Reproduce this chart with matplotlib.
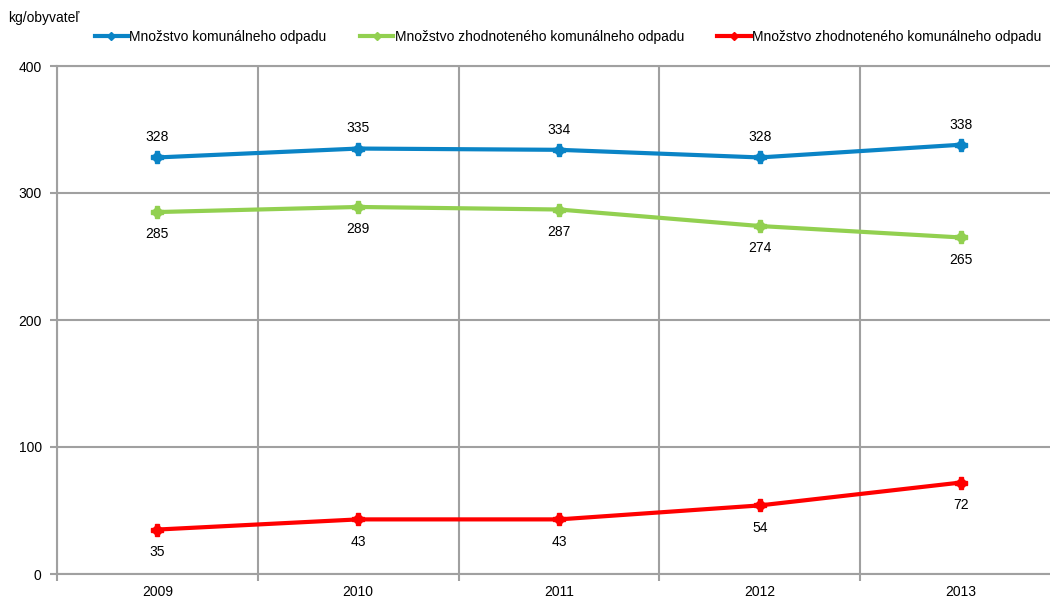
import matplotlib
matplotlib.use("Agg")
import matplotlib.pyplot as plt
from matplotlib.lines import Line2D

plt.rcParams['font.family'] = ['Liberation Sans', 'DejaVu Sans']

years = ["2009", "2010", "2011", "2012", "2013"]
komunalny = [328, 335, 334, 328, 338]
zhodnoteny = [285, 289, 287, 274, 265]
zhodnoteny2 = [35, 43, 43, 54, 72]
series_names = ["Množstvo komunálneho odpadu",
                "Množstvo zhodnoteného komunálneho odpadu",
                "Množstvo zhodnoteného komunálneho odpadu"]
colors = ["#0a84c6", "#92d050", "#ff0000"]
yticks = [0, 100, 200, 300, 400]

fig = plt.figure(figsize=(10.5, 6), dpi=100)
ax = fig.add_axes([57/1050, 1-574/600, (1061-57)/1050, (574-66)/600])

grid_c = "#a0a0a0"
x = list(range(len(years)))
ax.set_xlim(-0.5, len(years) - 0.5)
ax.set_ylim(0, 400)
ax.set_yticks(yticks)
ax.set_yticklabels([str(v) for v in yticks], fontsize=10)
ax.set_xticks(x)
ax.set_xticklabels(years, fontsize=10)
ax.tick_params(axis='x', which='major', length=0, pad=8)
ax.set_xticks([i - 0.5 for i in range(len(years) + 1)], minor=True)
ax.tick_params(axis='x', which='minor', length=5, color=grid_c, width=1.5, direction='out')
ax.tick_params(axis='y', which='major', length=5, color=grid_c, width=1.5, pad=6)
ax.grid(True, axis='y', which='major', color=grid_c, linewidth=1.5)
ax.grid(True, axis='x', which='minor', color=grid_c, linewidth=1.5)
for s in ['right']:
    ax.spines[s].set_visible(False)
for s in ['left', 'bottom', 'top']:
    ax.spines[s].set_color(grid_c)
    ax.spines[s].set_linewidth(1.5)
ax.set_axisbelow(True)

data = [komunalny, zhodnoteny, zhodnoteny2]
offsets = [14.5, -16, -16]
for vals, c, off, name in zip(data, colors, offsets, series_names):
    ax.plot(x, vals, color=c, linewidth=3, marker='D', markersize=6,
            markeredgecolor=c, zorder=3, label=name)
    ax.plot(x, vals, color=c, linewidth=0, marker='P', markersize=9,
            markeredgecolor=c, zorder=3)
    for xi, v in zip(x, vals):
        ax.annotate(str(v), (xi, v), xytext=(0, off), textcoords='offset points',
                    ha='center', va='center', fontsize=10)

handles = [Line2D([0], [0], color=c, linewidth=3, marker='D', markersize=4) for c in colors]
fig.legend(handles, series_names, loc='center', bbox_to_anchor=(568/1050, 1-37/600),
           ncol=3, frameon=False, fontsize=10, handlelength=2.4, handletextpad=0.1,
           columnspacing=2.4)

fig.text(8/1050, 1-18/600, "kg/obyvateľ", fontsize=10, ha='left', va='center')

fig.savefig("out.png", dpi=100)
